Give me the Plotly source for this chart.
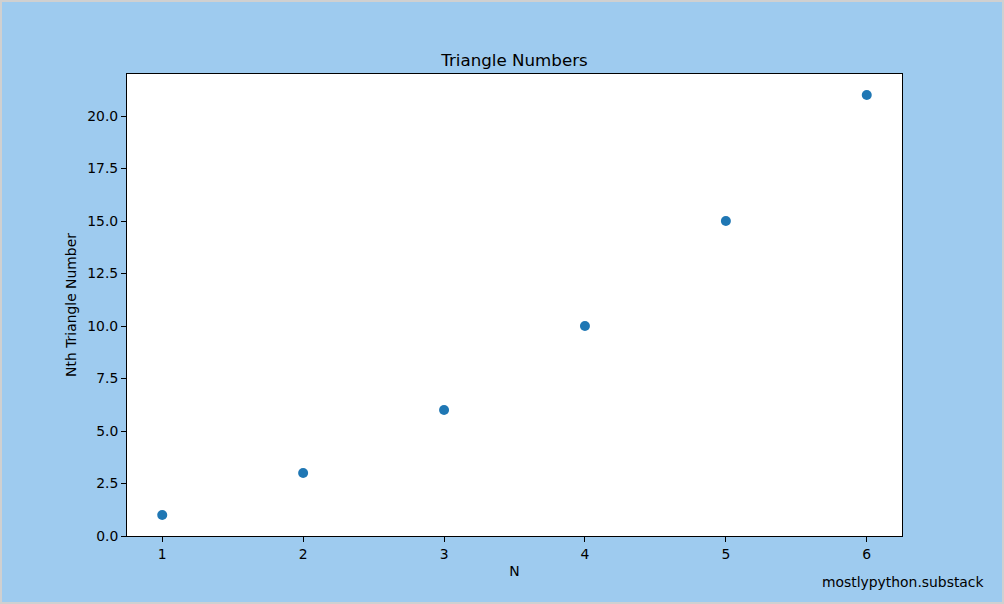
import plotly.graph_objects as go

# triangle numbers
n_values = [1, 2, 3, 4, 5, 6]
triangle_numbers = [1, 3, 6, 10, 15, 21]

W, H = 1004, 604
L, R, T, B = 127, 102, 74, 68
PW, PH = W - L - R, H - T - B
FS = 13.9

fig = go.Figure()
fig.add_trace(go.Scatter(
    x=n_values, y=triangle_numbers, mode="markers",
    marker=dict(color="#1f77b4", size=10),
    hoverinfo="x+y",
))

axis_common = dict(
    showgrid=False, zeroline=False, showline=True, mirror=True,
    linecolor="black", linewidth=1, ticks="outside", ticklen=5,
    tickcolor="black", tickfont=dict(size=FS, color="black"),
)

fig.update_layout(
    width=W, height=H,
    margin=dict(l=L, r=R, t=T, b=B),
    paper_bgcolor="#9ecbef",
    plot_bgcolor="white",
    font=dict(family="DejaVu Sans", size=FS, color="black"),
    showlegend=False,
    title=dict(text="Triangle Numbers", x=(L + PW / 2) / W, xanchor="center",
               yref="container", y=1 - 60 / H, yanchor="middle",
               font=dict(size=16.7)),
    xaxis=dict(range=[0.75, 6.25], tickvals=n_values,
               title=dict(text="N", standoff=5, font=dict(size=FS)),
               **axis_common),
    yaxis=dict(range=[0, 22], dtick=2.5, tickformat=".1f",
               title=dict(text="Nth Triangle Number", standoff=7, font=dict(size=FS)),
               **axis_common),
    shapes=[dict(type="rect", xref="paper", yref="paper",
                 x0=-(L - 1) / PW, x1=1 + (R - 1) / PW,
                 y0=-(B - 1) / PH, y1=1 + (T - 1) / PH,
                 line=dict(color="#d0d0d0", width=2), layer="below")],
    annotations=[dict(text="mostlypython.substack", xref="paper", yref="paper",
                      x=(986 - L) / PW, y=(T + PH - 582) / PH,
                      xanchor="right", yanchor="middle", showarrow=False,
                      font=dict(size=FS))],
)

# drop the default page margin so the figure sits at the window corner
fig.write_html("out.html", config={"displayModeBar": False},
               post_script="document.body.style.margin = '0';")
